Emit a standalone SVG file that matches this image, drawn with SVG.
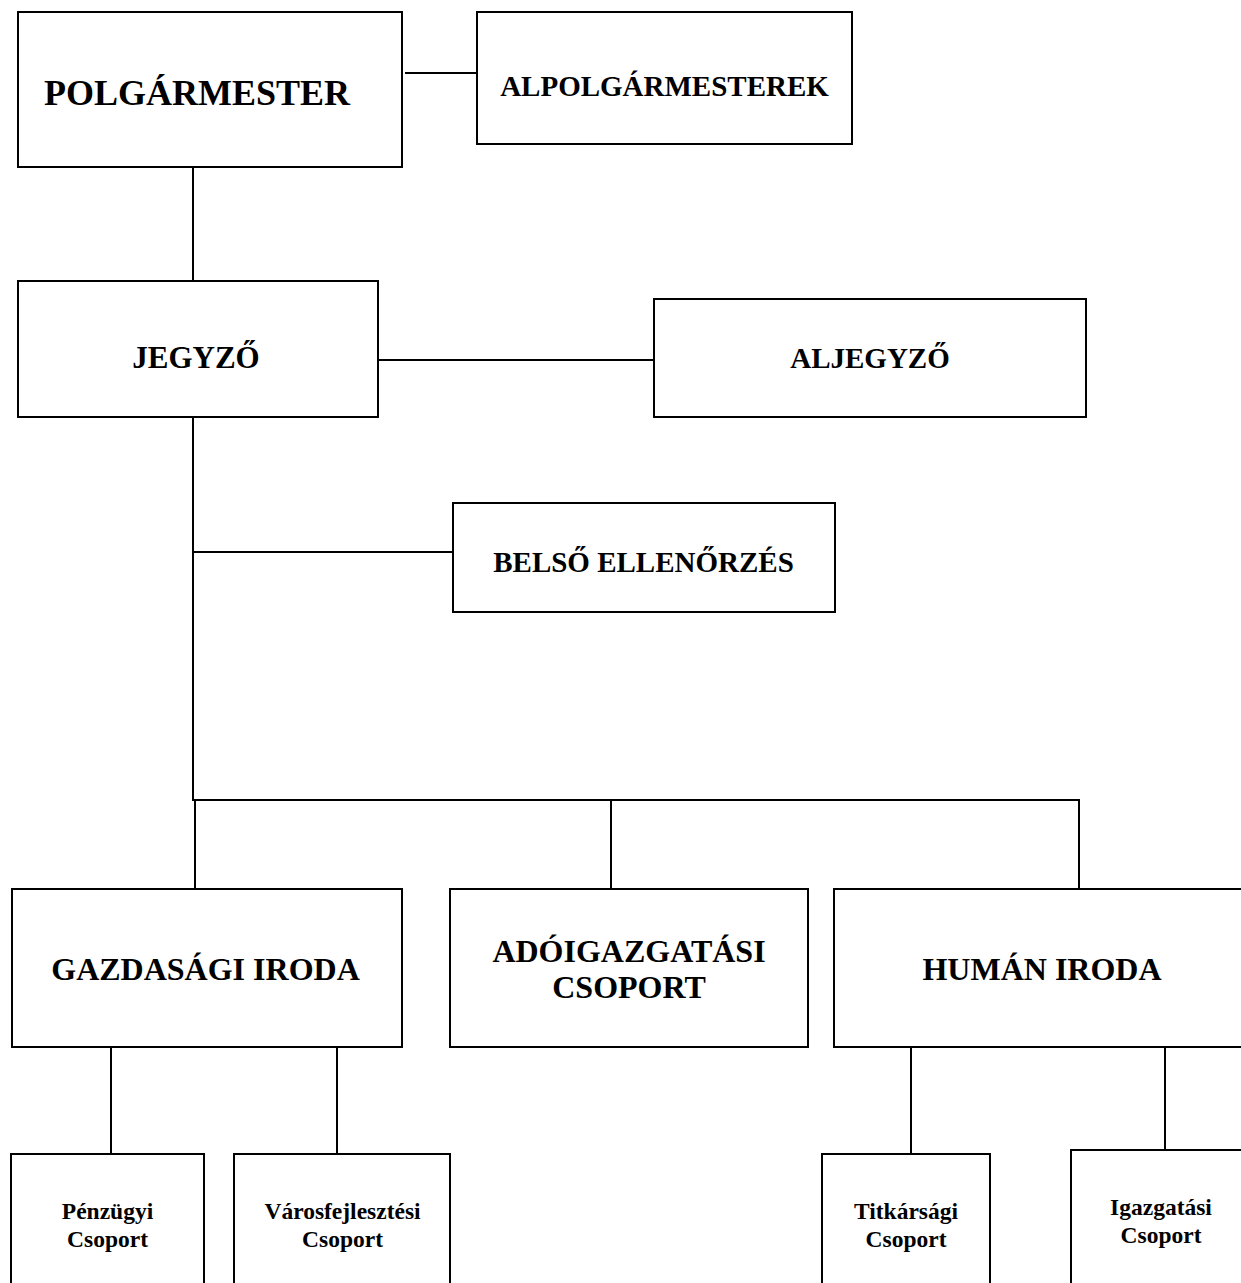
<svg xmlns="http://www.w3.org/2000/svg" width="1241" height="1283" viewBox="0 0 1241 1283">
<style>
.box{fill:#fff;stroke:#000;stroke-width:2}
.ln{stroke:#000;stroke-width:2;fill:none}
text{font-family:"Liberation Serif","Times New Roman",serif;font-weight:bold;fill:#000;text-anchor:middle}
.t36{font-size:36px}
.t32{font-size:32px}
.t29{font-size:29px}
.t23{font-size:23.5px}
</style>
<rect width="1241" height="1283" fill="#fff"/>
<g id="connectors">
<line class="ln" x1="405" y1="73" x2="477" y2="73"/>
<line class="ln" x1="193" y1="167" x2="193" y2="281"/>
<line class="ln" x1="376" y1="360" x2="654" y2="360"/>
<line class="ln" x1="193" y1="417" x2="193" y2="800"/>
<line class="ln" x1="193" y1="552" x2="453" y2="552"/>
<line class="ln" x1="192" y1="800" x2="1080" y2="800"/>
<line class="ln" x1="195" y1="800" x2="195" y2="889"/>
<line class="ln" x1="611" y1="800" x2="611" y2="889"/>
<line class="ln" x1="1079" y1="800" x2="1079" y2="889"/>
<line class="ln" x1="111" y1="1047" x2="111" y2="1154"/>
<line class="ln" x1="337" y1="1047" x2="337" y2="1154"/>
<line class="ln" x1="911" y1="1047" x2="911" y2="1154"/>
<line class="ln" x1="1165" y1="1047" x2="1165" y2="1153"/>
</g>
<g id="polgarmester">
<rect class="box" x="18" y="12" width="384" height="155"/>
<text class="t36" x="197" y="105">POLGÁRMESTER</text>
</g>
<g id="alpolgarmesterek">
<rect class="box" x="477" y="12" width="375" height="132"/>
<text class="t29" x="664.5" y="96">ALPOLGÁRMESTEREK</text>
</g>
<g id="jegyzo">
<rect class="box" x="18" y="281" width="360" height="136"/>
<text class="t29" x="196" y="368" style="font-size:31px">JEGYZŐ</text>
</g>
<g id="aljegyzo">
<rect class="box" x="654" y="299" width="432" height="118"/>
<text class="t29" x="870" y="368">ALJEGYZŐ</text>
</g>
<g id="belso-ellenorzes">
<rect class="box" x="453" y="503" width="382" height="109"/>
<text class="t29" x="643.5" y="571.5">BELSŐ ELLENŐRZÉS</text>
</g>
<g id="gazdasagi-iroda">
<rect class="box" x="12" y="889" width="390" height="158"/>
<text class="t32" x="205.5" y="980">GAZDASÁGI IRODA</text>
</g>
<g id="adoigazgatasi-csoport">
<rect class="box" x="450" y="889" width="358" height="158"/>
<text class="t32" x="629" y="961.5">ADÓIGAZGATÁSI</text>
<text class="t32" x="629" y="998">CSOPORT</text>
</g>
<g id="human-iroda">
<rect class="box" x="834" y="889" width="416" height="158"/>
<text class="t32" x="1042" y="980">HUMÁN IRODA</text>
</g>
<g id="penzugyi-csoport">
<rect class="box" x="11" y="1154" width="193" height="140"/>
<text class="t23" x="107.5" y="1219">Pénzügyi</text>
<text class="t23" x="107.5" y="1247">Csoport</text>
</g>
<g id="varosfejlesztesi-csoport">
<rect class="box" x="234" y="1154" width="216" height="140"/>
<text class="t23" x="342.5" y="1219">Városfejlesztési</text>
<text class="t23" x="342.5" y="1247">Csoport</text>
</g>
<g id="titkarsagi-csoport">
<rect class="box" x="822" y="1154" width="168" height="140"/>
<text class="t23" x="906" y="1219">Titkársági</text>
<text class="t23" x="906" y="1247">Csoport</text>
</g>
<g id="igazgatasi-csoport">
<rect class="box" x="1071" y="1150" width="180" height="144"/>
<text class="t23" x="1161" y="1215">Igazgatási</text>
<text class="t23" x="1161" y="1243">Csoport</text>
</g>
</svg>
